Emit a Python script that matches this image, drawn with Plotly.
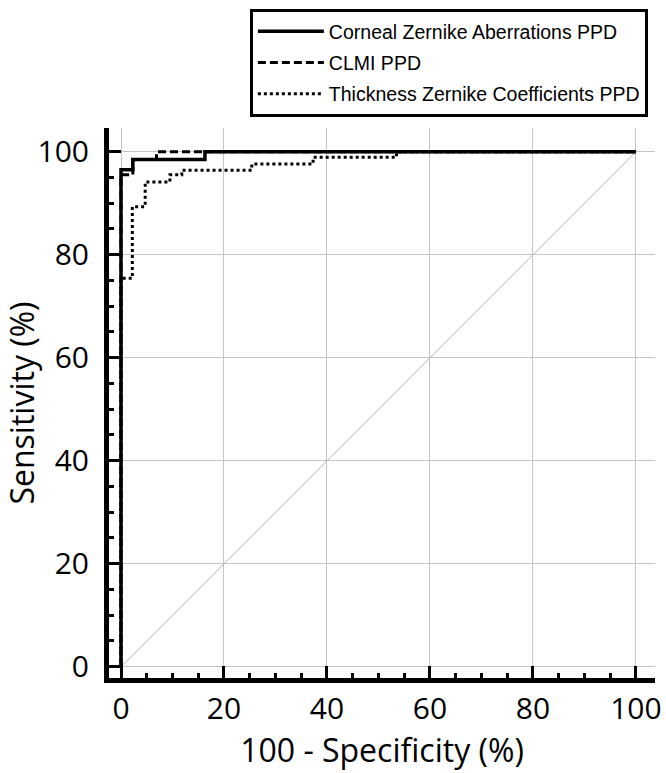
import plotly.graph_objects as go

# ---- data ----
series_names = ["Corneal Zernike Aberrations PPD", "CLMI PPD", "Thickness Zernike Coefficients PPD"]

corneal_fpr = [0, 0, 2.3, 16.3, 100]
corneal_tpr = [0, 96.5, 98.5, 100, 100]

clmi_fpr = [0, 0, 2.3, 6.9, 100]
clmi_tpr = [0, 95.5, 98.5, 100, 100]

thick_fpr = [0, 0, 2.2, 4.7, 9.5, 11.8, 25.4, 37.3, 53.5, 100]
thick_tpr = [0, 75.4, 89.3, 94.1, 95.5, 96.4, 97.6, 98.9, 100, 100]

diag_x = [0, 100]
diag_y = [0, 100]

tick_vals = [0, 20, 40, 60, 80, 100]

fig = go.Figure()
fig.add_trace(go.Scatter(x=diag_x, y=diag_y, mode="lines", showlegend=False,
                         line=dict(color="#b4b4b4", width=1), hoverinfo="skip"))
fig.add_trace(go.Scatter(x=corneal_fpr, y=corneal_tpr, mode="lines", name=series_names[0],
                         legendgroup="a",
                         line=dict(color="black", width=3.5, shape="hv")))
fig.add_trace(go.Scatter(x=clmi_fpr, y=clmi_tpr, mode="lines", name=series_names[1],
                         legendgroup="b",
                         line=dict(color="black", width=3, shape="hv", dash="8px,4px")))
fig.add_trace(go.Scatter(x=thick_fpr, y=thick_tpr, mode="lines", name=series_names[2],
                         legendgroup="c",
                         line=dict(color="black", width=3, shape="hv", dash="3px,3px")))

axis_common = dict(
    showline=True, linecolor="black", linewidth=5,
    ticks="inside", ticklen=12, tickwidth=2.5, tickcolor="black",
    tickvals=tick_vals, ticktext=[str(v) for v in tick_vals],
    showgrid=True, gridcolor="#c4c4c4", gridwidth=1, zeroline=False,
    minor=dict(ticks="inside", ticklen=5, tickwidth=2.5, tickcolor="black", dtick=5, tick0=0, showgrid=False),
    tickfont=dict(family="Open Sans", size=30, color="black"),
    title_font=dict(family="Open Sans", size=32, color="black"),
    automargin=True,
)

fig.update_xaxes(range=[-2.33, 103.7], title_text="100 - Specificity (%)", title_standoff=10, **axis_common)
fig.update_yaxes(range=[-2.2, 104.6], title_text="Sensitivity (%)", title_standoff=4,
                 ticklabelstandoff=9, **axis_common)

fig.update_layout(
    width=666, height=773,
    margin=dict(l=109, r=11, t=128, b=95, autoexpand=False),
    plot_bgcolor="white", paper_bgcolor="white",
    legend=dict(x=0.258, y=1.2164, xanchor="left", yanchor="top",
                bordercolor="black", borderwidth=3, bgcolor="white",
                font=dict(family="Liberation Sans", size=19.5, color="black"),
                itemwidth=66, tracegroupgap=3,
                entrywidth=354, entrywidthmode="pixels"),
)

fig.write_html("out.html", config={"displayModeBar": False},
               post_script="document.body.style.margin='0';")
